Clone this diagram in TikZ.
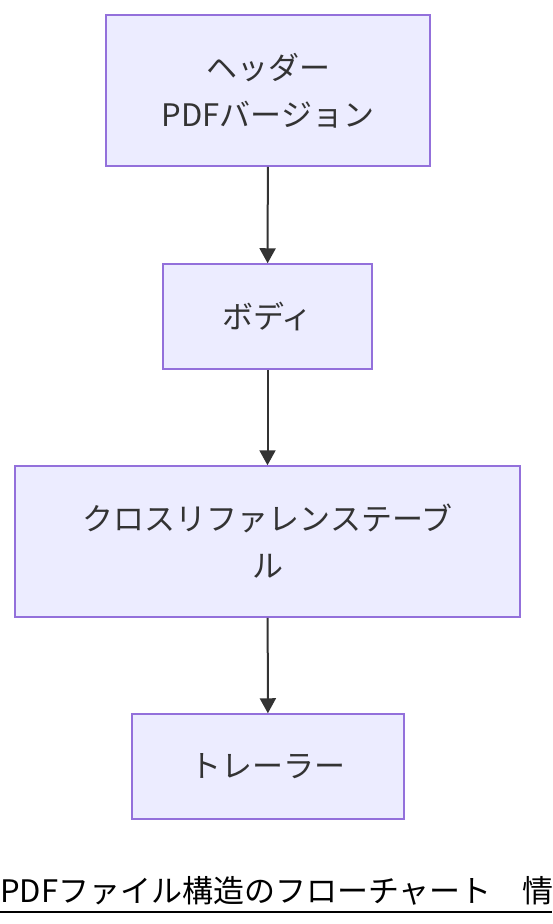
\documentclass[tikz,border=0pt]{standalone}
\usepackage{fontspec}
\setmainfont{Noto Sans CJK JP}
\usetikzlibrary{arrows.meta}
\definecolor{boxfill}{HTML}{ECECFF}
\definecolor{boxline}{HTML}{9370DB}
\definecolor{ink}{HTML}{333333}
\begin{document}
\begin{tikzpicture}[x=1pt, y=-1pt,
	every node/.style={text centered, align=center, text=ink, font=\fontsize{31}{47}\selectfont},
	part/.style={draw=boxline, fill=boxfill, line width=1.5pt, inner sep=0pt},
	flow/.style={-{Triangle[length=15pt, width=16pt]}, draw=ink, line width=2pt}]
	\clip (0,0) rectangle (552,924);
		\draw (268, 90.5)		node[part%]
, minimum width=324pt, minimum height=151pt] (header)
				{ヘッダー\\PDFバージョン}

			(267.5, 316.5)		node[part%]
, minimum width=209pt, minimum height=105pt] (body)
				{ボディ}

			(267.5, 541.5)		node[part%]
, minimum width=505pt, minimum height=151pt] (xref)
				{クロスリファレンステーブ\\ル}

			(268, 766.5)		node[part%]
, minimum width=272pt, minimum height=105pt] (trailer)
				{トレーラー}

			(0, 902)	node[anchor=base west, inner sep=0pt, text=black, font=\fontsize{31}{36}\selectfont] (caption)
				{PDFファイル構造のフローチャート　情}
;

	\draw[flow] (header) -- (body);
	\draw[flow] (body) -- (xref);
	\draw[flow] (xref) -- (trailer);
	\draw[line width=2pt] (0, 912) -- (552, 912);%underline
\end{tikzpicture}
\end{document}
